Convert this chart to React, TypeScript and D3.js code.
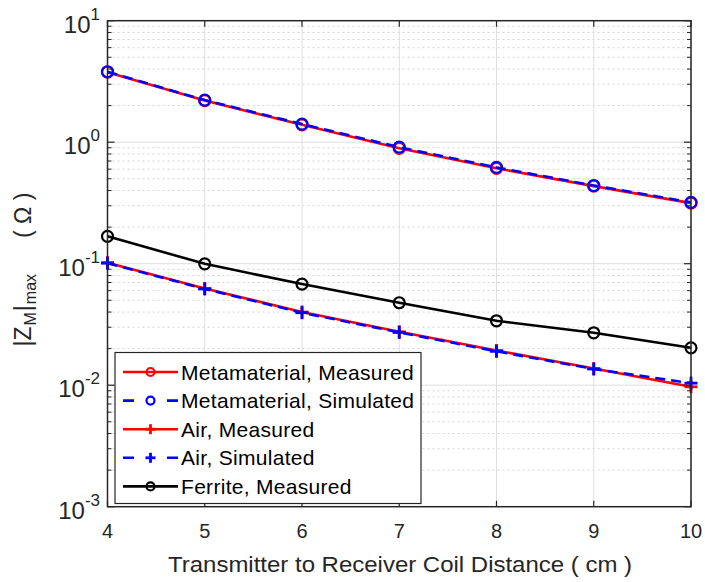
import React from "react";
import * as d3 from "d3";

const distances = [4, 5, 6, 7, 8, 9, 10];
const metaMeasured = [3.77, 2.2, 1.39, 0.89, 0.61, 0.435, 0.315];
const metaSimulated = [3.8, 2.22, 1.41, 0.91, 0.62, 0.44, 0.32];
const airMeasured = [0.102, 0.0625, 0.04, 0.0275, 0.0193, 0.0137, 0.0097];
const airSimulated = [0.101, 0.062, 0.0395, 0.0272, 0.019, 0.0136, 0.0104];
const ferriteMeasured = [0.168, 0.0998, 0.068, 0.0477, 0.0339, 0.027, 0.0203];
const yExponents = [1, 0, -1, -2, -3];
const xTicks = [4, 5, 6, 7, 8, 9, 10];

const W = 705, H = 582;
const L = 107.5, R = 691, T = 20.7, B = 506.7;
const FONT = "'Liberation Sans', Arial, Helvetica, sans-serif";

type Series = { name: string; values: number[]; color: string; dash?: string; marker: "o" | "+" };
const series: Series[] = [
  { name: "Metamaterial, Measured", values: metaMeasured, color: "#ff0000", marker: "o" },
  { name: "Metamaterial, Simulated", values: metaSimulated, color: "#0000ff", dash: "10,6", marker: "o" },
  { name: "Air, Measured", values: airMeasured, color: "#ff0000", marker: "+" },
  { name: "Air, Simulated", values: airSimulated, color: "#0000ff", dash: "10,6", marker: "+" },
  { name: "Ferrite, Measured", values: ferriteMeasured, color: "#000000", marker: "o" },
];

function Marker({ x, y, type, color, r = 5.5, sw = 2.2 }: { x: number; y: number; type: string; color: string; r?: number; sw?: number }) {
  if (type === "o") return <circle cx={x} cy={y} r={r} fill="none" stroke={color} strokeWidth={sw} />;
  return (
    <g stroke={color} strokeWidth={sw + 0.6}>
      <line x1={x - r - 1} x2={x + r + 1} y1={y} y2={y} />
      <line x1={x} x2={x} y1={y - r - 1} y2={y + r + 1} />
    </g>
  );
}

export default function App() {
  const x = d3.scaleLinear().domain([4, 10]).range([L, R]);
  const y = d3.scaleLog().domain([1e-3, 10]).range([B, T]);
  const line = d3.line<number>().x((_, i) => x(distances[i])).y((d) => y(d));

  const minor: number[] = [];
  for (let e = -3; e < 1; e++) for (let k = 2; k <= 9; k++) minor.push(k * Math.pow(10, e));

  const legX = 115, legY = 352.5, legW = 306, legH = 151;
  const rowH = 28.6;

  return (
    <div style={{ position: "absolute", left: 0, top: 0 }}>
      <svg width={W} height={H} style={{ display: "block", background: "#fff" }} fontFamily={FONT}>
        <rect x={L} y={T} width={R - L} height={B - T} fill="#fff" />
        {minor.map((v, i) => (
          <line key={"mg" + i} x1={L} x2={R} y1={y(v)} y2={y(v)} stroke="#d4d4d4" strokeWidth={1} strokeDasharray="2,3" />
        ))}
        {yExponents.map((e) => (
          <line key={"yg" + e} x1={L} x2={R} y1={y(Math.pow(10, e))} y2={y(Math.pow(10, e))} stroke="#dedede" strokeWidth={1} />
        ))}
        {xTicks.map((t) => (
          <line key={"xg" + t} x1={x(t)} x2={x(t)} y1={T} y2={B} stroke="#dedede" strokeWidth={1} />
        ))}
        {series.map((s) => (
          <g key={s.name}>
            <path d={line(s.values) || ""} fill="none" stroke={s.color} strokeWidth={2.6} strokeDasharray={s.dash} />
            {s.values.map((v, i) => (
              <Marker key={i} x={x(distances[i])} y={y(v)} type={s.marker} color={s.color} />
            ))}
          </g>
        ))}
        <rect x={L} y={T} width={R - L} height={B - T} fill="none" stroke="#262626" strokeWidth={1.5} />
        {yExponents.map((e) => {
          const yy = y(Math.pow(10, e));
          return (
            <g key={"yt" + e}>
              <line x1={L} x2={L + 7} y1={yy} y2={yy} stroke="#262626" strokeWidth={1.2} />
              <line x1={R} x2={R - 7} y1={yy} y2={yy} stroke="#262626" strokeWidth={1.2} />
              <text x={100} y={yy + 12} textAnchor="end" fontSize={24} fill="#262626">
                10<tspan fontSize={17} dy={-13}>{e}</tspan>
              </text>
            </g>
          );
        })}
        {minor.map((v, i) => (
          <g key={"mt" + i}>
            <line x1={L} x2={L + 4} y1={y(v)} y2={y(v)} stroke="#262626" strokeWidth={1} />
            <line x1={R} x2={R - 4} y1={y(v)} y2={y(v)} stroke="#262626" strokeWidth={1} />
          </g>
        ))}
        {xTicks.map((t) => (
          <g key={"xt" + t}>
            <line x1={x(t)} x2={x(t)} y1={B} y2={B - 6} stroke="#262626" strokeWidth={1.2} />
            <line x1={x(t)} x2={x(t)} y1={T} y2={T + 6} stroke="#262626" strokeWidth={1.2} />
            <text x={x(t)} y={538} textAnchor="middle" fontSize={20} fill="#262626">{t}</text>
          </g>
        ))}
        <text x={168} y={572} fontSize={22} fill="#262626" textLength={464} lengthAdjust="spacingAndGlyphs">
          Transmitter to Receiver Coil Distance ( cm )
        </text>
        <text transform="translate(31,346.5) rotate(-90)" fontSize={23} fill="#262626">
          |Z<tspan fontSize={16} dy={5} dx={1}>M</tspan><tspan dy={-5} dx={1}>|</tspan><tspan fontSize={16} dy={5} dx={1}>max</tspan>
        </text>
        <text transform="translate(31,238) rotate(-90)" fontSize={23} fill="#262626">
          ( Ω )
        </text>
        <rect x={legX} y={legY} width={legW} height={legH} fill="#fff" stroke="#262626" strokeWidth={1.2} />
        {series.map((s, i) => {
          const yy = legY + 19.5 + i * rowH;
          return (
            <g key={"lg" + i}>
              <line x1={123} x2={178} y1={yy} y2={yy} stroke={s.color} strokeWidth={2.6} strokeDasharray={s.dash ? "11,33,11" : undefined} />
              <Marker x={150.5} y={yy} type={s.marker} color={s.color} r={4} sw={2.2} />
              <text x={181} y={yy + 7.5} fontSize={21} letterSpacing={0.3} fill="#000">{s.name}</text>
            </g>
          );
        })}
      </svg>
    </div>
  );
}
